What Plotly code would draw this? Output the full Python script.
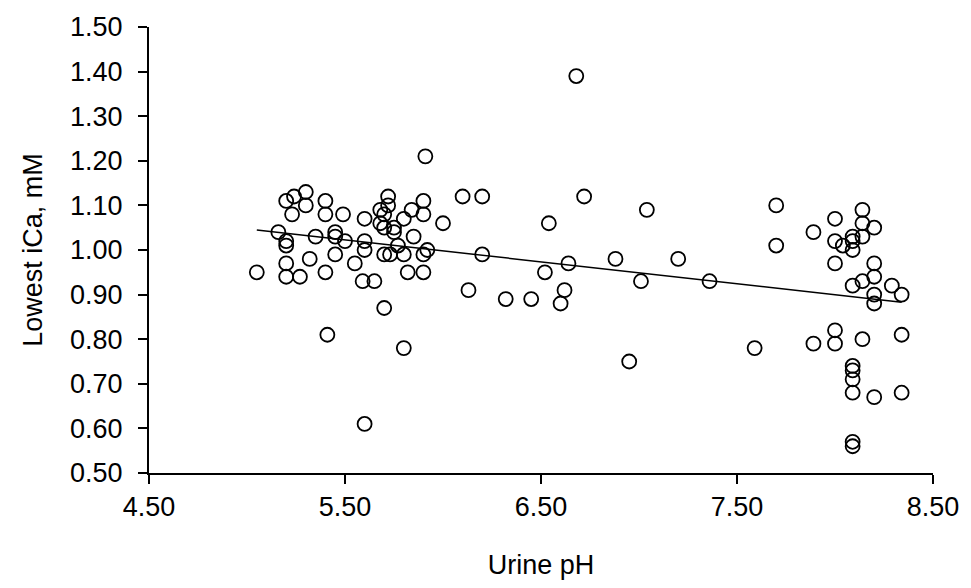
import numpy as np
import plotly.graph_objects as go

urine_ph = [
    5.05, 5.20, 5.24, 5.30, 5.30, 5.23, 5.40, 5.40, 5.49, 5.16,
    5.20, 5.20, 5.35, 5.45, 5.45, 5.50, 5.20, 5.32, 5.45, 5.55,
    5.20, 5.27, 5.40, 5.41, 5.60, 5.91, 6.10, 6.20, 5.72, 5.90,
    5.90, 5.68, 5.72, 5.70, 5.84, 5.80, 5.60, 5.68, 5.70, 5.75,
    5.75, 5.85, 6.00, 5.60, 5.60, 5.77, 5.92, 5.70, 5.73, 5.80,
    5.90, 6.20, 5.82, 5.90, 5.59, 5.65, 6.13, 6.32, 6.45, 5.70,
    5.80, 6.68, 6.72, 6.54, 7.04, 6.64, 6.52, 6.88, 7.20, 7.01,
    7.36, 6.62, 6.60, 6.95, 7.70, 7.70, 7.89, 8.00, 8.00, 8.00,
    8.04, 8.09, 8.09, 8.09, 8.14, 8.14, 8.14, 8.20, 8.20, 8.20,
    8.14, 8.09, 8.29, 8.34, 8.20, 8.20, 7.59, 7.89, 8.00, 8.00,
    8.14, 8.34, 8.09, 8.09, 8.09, 8.09, 8.20, 8.34, 8.09, 8.09,
]
lowest_ica = [
    0.95, 1.11, 1.12, 1.13, 1.10, 1.08, 1.11, 1.08, 1.08, 1.04,
    1.02, 1.01, 1.03, 1.04, 1.03, 1.02, 0.97, 0.98, 0.99, 0.97,
    0.94, 0.94, 0.95, 0.81, 0.61, 1.21, 1.12, 1.12, 1.12, 1.11,
    1.08, 1.09, 1.10, 1.08, 1.09, 1.07, 1.07, 1.06, 1.05, 1.05,
    1.04, 1.03, 1.06, 1.02, 1.00, 1.01, 1.00, 0.99, 0.99, 0.99,
    0.99, 0.99, 0.95, 0.95, 0.93, 0.93, 0.91, 0.89, 0.89, 0.87,
    0.78, 1.39, 1.12, 1.06, 1.09, 0.97, 0.95, 0.98, 0.98, 0.93,
    0.93, 0.91, 0.88, 0.75, 1.10, 1.01, 1.04, 1.07, 1.02, 0.97,
    1.01, 1.03, 1.02, 1.00, 1.09, 1.06, 1.03, 1.05, 0.97, 0.94,
    0.93, 0.92, 0.92, 0.90, 0.90, 0.88, 0.78, 0.79, 0.82, 0.79,
    0.80, 0.81, 0.74, 0.73, 0.71, 0.68, 0.67, 0.68, 0.57, 0.56,
]

x_ticks = [4.5, 5.5, 6.5, 7.5, 8.5]
y_ticks = [0.5, 0.6, 0.7, 0.8, 0.9, 1.0, 1.1, 1.2, 1.3, 1.4, 1.5]

xa = np.array(urine_ph)
ya = np.array(lowest_ica)
slope, intercept = np.polyfit(xa, ya, 1)
trend_x = [xa.min(), xa.max()]
trend_y = [slope * v + intercept for v in trend_x]

font_family = "Liberation Sans, Arial, sans-serif"
fs = 27

fig = go.Figure()
fig.add_trace(go.Scatter(
    x=urine_ph, y=lowest_ica, mode="markers",
    marker=dict(symbol="circle-open", size=14, color="black", line=dict(width=1.8, color="black")),
    cliponaxis=False, showlegend=False,
))
fig.add_trace(go.Scatter(
    x=trend_x, y=trend_y, mode="lines",
    line=dict(color="black", width=1.5), showlegend=False,
))

fig.update_layout(
    width=971, height=588,
    margin=dict(l=149, r=36, t=22, b=115),
    paper_bgcolor="white", plot_bgcolor="white",
    font=dict(family=font_family, size=fs, color="black"),
    xaxis=dict(
        range=[4.5, 8.5], tickvals=x_ticks, ticktext=[f"{v:.2f}" for v in x_ticks],
        showline=True, linecolor="black", linewidth=2, ticks="outside",
        ticklen=9, tickwidth=2, tickcolor="black", showgrid=False, zeroline=False,
        title=dict(text="Urine pH", standoff=34, font=dict(size=fs)),
        tickfont=dict(size=fs), ticklabelstandoff=0,
    ),
    yaxis=dict(
        range=[0.5, 1.5], tickvals=y_ticks, ticktext=[f"{v:.2f}" for v in y_ticks],
        showline=True, linecolor="black", linewidth=2, ticks="outside",
        ticklen=9, tickwidth=2, tickcolor="black", showgrid=False, zeroline=False,
        title=dict(text="Lowest iCa, mM", standoff=20, font=dict(size=fs)),
        tickfont=dict(size=fs), ticklabelstandoff=10,
    ),
)

fig.write_html("out.html")
